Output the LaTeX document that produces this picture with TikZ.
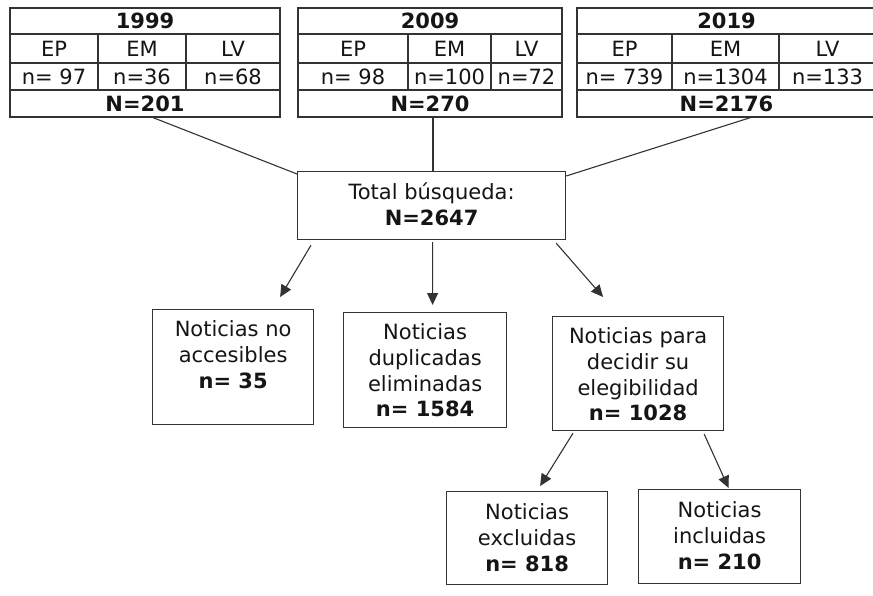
\documentclass[tikz,border=0pt]{standalone}
\usepackage{fontspec}
\setmainfont{DejaVu Sans}
\usetikzlibrary{calc,arrows.meta}
\definecolor{linec}{HTML}{333333}
\definecolor{textc}{HTML}{151515}
\tikzset{
  cell/.style={draw=linec, line width=1.2bp, inner sep=0pt, text=textc, font=\fontsize{21bp}{25.7bp}\selectfont},
  ycell/.style={cell, font=\fontsize{21bp}{25.7bp}\selectfont\bfseries},
  box/.style={draw=linec, line width=1.2bp, inner sep=0pt, anchor=north west, text=textc, font=\fontsize{21bp}{25.7bp}\selectfont},
  conn/.style={draw=linec, line width=1.1bp},
  arr/.style={conn, -{Triangle[length=12bp,width=11bp]}}
}
\newcommand{\boxtext}[4]{\parbox[c][#2][t]{#1}{\centering\rule{0pt}{#3}#4}}
\begin{document}
\begin{tikzpicture}[x=1bp,y=-1bp]
\useasboundingbox (0,0) rectangle (873,596);
\fill[white] (0,0) rectangle (873,596);
% Table 1999
\node[ycell, minimum width=270bp, minimum height=26bp] (t1y) at (145,21) {1999};
\node[cell, minimum width=88bp, minimum height=29bp] (t1a) at (54,48.5) {EP};
\node[cell, minimum width=88bp, minimum height=29bp] (t1b) at (142,48.5) {EM};
\node[cell, minimum width=94bp, minimum height=29bp] (t1c) at (233,48.5) {LV};
\node[cell, minimum width=88bp, minimum height=27bp] (t1an) at (54,76.5) {n= 97};
\node[cell, minimum width=88bp, minimum height=27bp] (t1bn) at (142,76.5) {n=36};
\node[cell, minimum width=94bp, minimum height=27bp] (t1cn) at (233,76.5) {n=68};
\node[ycell, minimum width=270bp, minimum height=27bp] (t1N) at (145,103.5) {N=201};
% Table 2009
\node[ycell, minimum width=264bp, minimum height=26bp] (t2y) at (430,21) {2009};
\node[cell, minimum width=110bp, minimum height=29bp] (t2a) at (353,48.5) {EP};
\node[cell, minimum width=83bp, minimum height=29bp] (t2b) at (449.5,48.5) {EM};
\node[cell, minimum width=71bp, minimum height=29bp] (t2c) at (526.5,48.5) {LV};
\node[cell, minimum width=110bp, minimum height=27bp] (t2an) at (353,76.5) {n= 98};
\node[cell, minimum width=83bp, minimum height=27bp] (t2bn) at (449.5,76.5) {n=100};
\node[cell, minimum width=71bp, minimum height=27bp] (t2cn) at (526.5,76.5) {n=72};
\node[ycell, minimum width=264bp, minimum height=27bp] (t2N) at (430,103.5) {N=270};
% Table 2019
\node[ycell, minimum width=299bp, minimum height=26bp] (t3y) at (726.5,21) {2019};
\node[cell, minimum width=95bp, minimum height=29bp] (t3a) at (624.5,48.5) {EP};
\node[cell, minimum width=107bp, minimum height=29bp] (t3b) at (725.5,48.5) {EM};
\node[cell, minimum width=97bp, minimum height=29bp] (t3c) at (827.5,48.5) {LV};
\node[cell, minimum width=95bp, minimum height=27bp] (t3an) at (624.5,76.5) {n= 739};
\node[cell, minimum width=107bp, minimum height=27bp] (t3bn) at (725.5,76.5) {n=1304};
\node[cell, minimum width=97bp, minimum height=27bp] (t3cn) at (827.5,76.5) {n=133};
\node[ycell, minimum width=299bp, minimum height=27bp] (t3N) at (726.5,103.5) {N=2176};
% Main boxes
\node[box] (total) at (297,171) {\boxtext{268bp}{68bp}{28bp}{Total búsqueda:\\\textbf{N=2647}}};
\node[box] (boxA) at (152,309) {\boxtext{161bp}{115bp}{27bp}{Noticias no\\accesibles\\\textbf{n= 35}}};
\node[box] (boxB) at (343,312) {\boxtext{163bp}{115bp}{27bp}{Noticias\\duplicadas\\eliminadas\\\textbf{n= 1584}}};
\node[box] (boxC) at (552,316) {\boxtext{171bp}{114bp}{27bp}{Noticias para\\decidir su\\elegibilidad\\\textbf{n= 1028}}};
\node[box] (excl) at (446,491) {\boxtext{161bp}{93bp}{28bp}{Noticias\\excluidas\\\textbf{n= 818}}};
\node[box] (incl) at (638,489) {\boxtext{162bp}{94bp}{28bp}{Noticias\\incluidas\\\textbf{n= 210}}};
% Connectors
\draw[conn] ($(t1N.south)+(8,0)$) -- ($(total.north west)+(0,3)$);
\draw[conn] ($(t2N.south)+(3,0)$) -- ($(t2N.south |- total.north)+(3,0)$);
\draw[conn] ($(t3N.south)+(24,0)$) -- ($(total.north east)+(0,5)$);
\draw[arr] ($(total.south west)+(14,5)$) -- ($(boxA.north)+(47,-12)$);
\draw[arr] ($(total.south)+(1,2)$) -- ($(boxB.north)+(7.5,-7)$);
\draw[arr] ($(total.south east)+(-10,3)$) -- ($(boxC.north)+(-35,-19)$);
\draw[arr] ($(boxC.south west)+(21,2)$) -- ($(excl.north)+(13,-5)$);
\draw[arr] ($(boxC.south east)+(-20,3)$) -- ($(incl.north)+(9,-1)$);
\end{tikzpicture}
\end{document}
